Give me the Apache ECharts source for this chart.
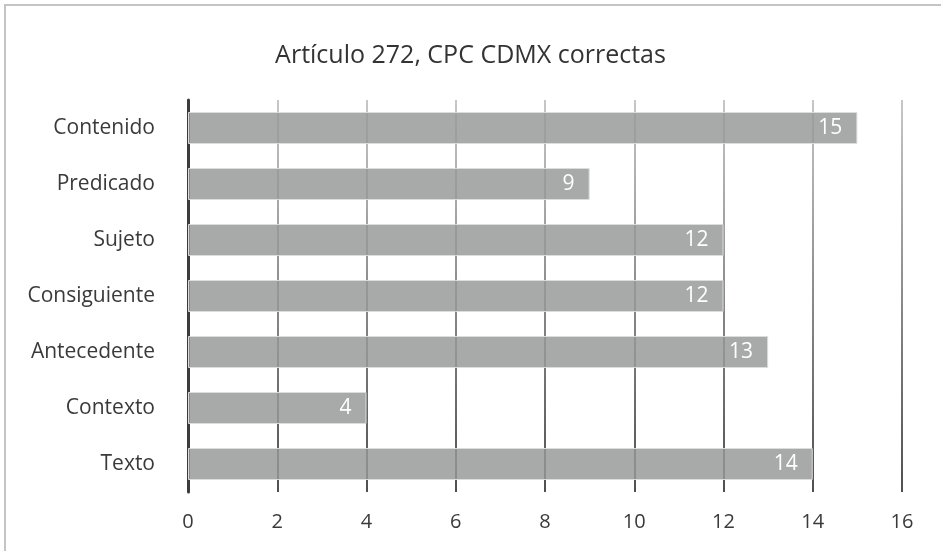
<!DOCTYPE html>
<html>
<head>
<meta charset="utf-8">
<script src="https://cdn.jsdelivr.net/npm/echarts@6/dist/echarts.min.js"></script>
<style>
  html, body { margin: 0; padding: 0; background: #fff; }
  #chart { width: 941px; height: 551px; }
</style>
</head>
<body>
<div id="chart"></div>
<script>
// datos (de abajo hacia arriba, como los dibuja el eje)
var categorias = ['Texto', 'Contexto', 'Antecedente', 'Consiguiente', 'Sujeto', 'Predicado', 'Contenido'];
var correctas = [14, 4, 13, 12, 12, 9, 15];
var titulo = 'Artículo 272, CPC CDMX correctas';

var fuente = '"Open Sans", "Noto Sans", sans-serif';

var chart = echarts.init(document.getElementById('chart'));

var option = {
  animation: false,
  backgroundColor: '#fff',
  title: {
    text: titulo,
    left: 'center',
    top: 38,
    textStyle: {
      fontFamily: fuente,
      fontSize: 25,
      fontWeight: 'normal',
      color: '#333'
    }
  },
  // marco gris alrededor del gráfico
  graphic: [{
    type: 'rect',
    shape: { x: 5, y: 5, width: 1000, height: 1000 },
    style: { fill: null, stroke: '#c4c4c4', lineWidth: 2 },
    silent: true
  }],
  grid: {
    left: 188,
    right: 39,
    top: 100,
    bottom: 59
  },
  xAxis: {
    type: 'value',
    min: 0,
    max: 16,
    interval: 2,
    axisLine: { show: false },
    axisTick: { show: false },
    axisLabel: {
      margin: 20,
      fontFamily: fuente,
      fontSize: 20,
      color: '#3a3a3a'
    },
    splitLine: {
      show: true,
      lineStyle: {
        width: 1.5,
        // las líneas pasan de gris claro arriba a casi negro abajo
        color: new echarts.graphic.LinearGradient(0, 100, 0, 492, [
          { offset: 0, color: '#b4b4b4' },
          { offset: 1, color: '#151515' }
        ], true)
      }
    }
  },
  yAxis: {
    type: 'category',
    data: categorias,
    axisLine: { show: true, lineStyle: { color: '#3a3d40', width: 3 } },
    axisTick: { show: false },
    axisLabel: {
      margin: 33,
      fontFamily: fuente,
      fontSize: 21,
      color: '#3a3a3a'
    }
  },
  series: [{
    name: 'Correctas',
    type: 'bar',
    data: correctas,
    barWidth: 32,
    itemStyle: {
      color: 'rgba(150,151,152,0.83)',
      borderColor: '#dcdcdc',
      borderWidth: 1
    },
    label: {
      show: true,
      position: 'insideRight',
      distance: 15,
      fontFamily: fuente,
      fontSize: 21,
      color: '#fff'
    }
  }]
};

chart.setOption(option);
</script>
</body>
</html>
